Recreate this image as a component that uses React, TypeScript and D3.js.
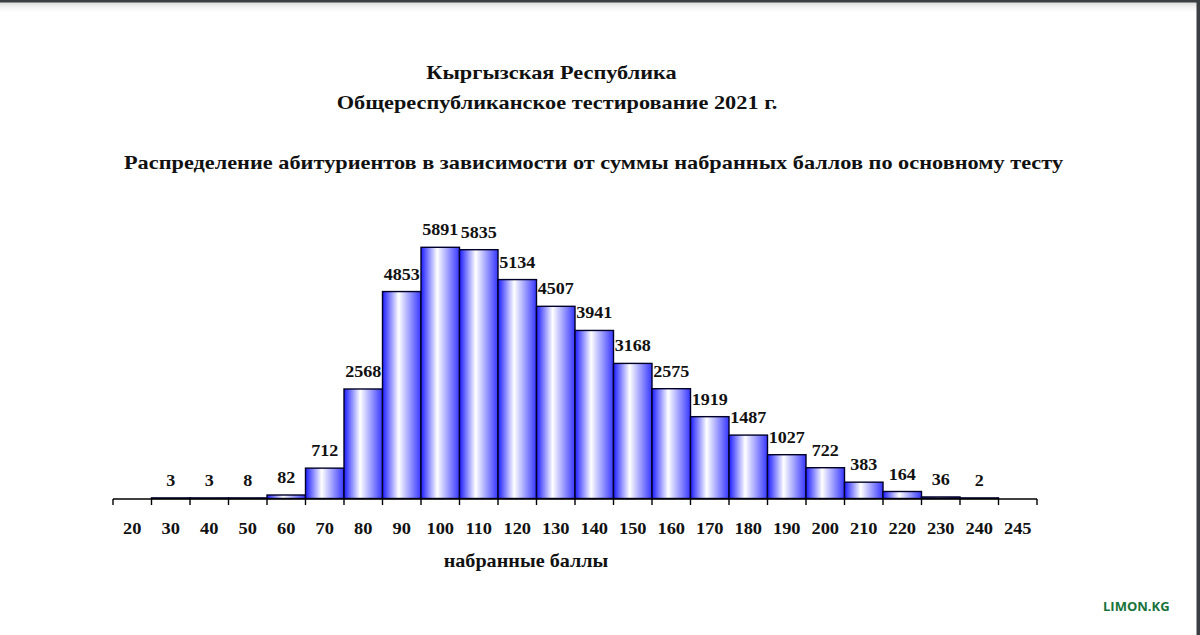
import React from "react";
import * as d3 from "d3";

const categories = ["20","30","40","50","60","70","80","90","100","110","120","130","140","150","160","170","180","190","200","210","220","230","240","245"];
const counts: (number | null)[] = [null,3,3,8,82,712,2568,4853,5891,5835,5134,4507,3941,3168,2575,1919,1487,1027,722,383,164,36,2,null];
const titleLines = ["Кыргызская Республика", "Общереспубликанское тестирование 2021 г."];
const subtitle = "Распределение абитуриентов в зависимости от суммы набранных баллов по основному тесту";
const xAxisTitle = "набранные баллы";

function SText({ x, y, sx, size, children }: { x: number; y: number; sx: number; size: number; children: React.ReactNode }) {
  return (
    <text transform={`translate(${x},${y}) scale(${sx},1)`} textAnchor="middle" fontWeight="bold" fontSize={size} fill="#111">
      {children}
    </text>
  );
}

export default function App() {
  const W = 1200, H = 635;
  const x = d3.scaleBand<string>().domain(categories).range([113, 1037]).paddingInner(0).paddingOuter(0);
  const y = d3.scaleLinear().domain([0, 5891]).range([498.5, 247.3]);
  const base = y(0);
  const font = "'Liberation Serif', 'Times New Roman', serif";
  const tickXs = categories.map((c) => x(c)!).concat([x.range()[1]]);

  return (
    <svg width={W} height={H} style={{ position: "absolute", left: 0, top: 0, background: "#fff" }} fontFamily={font}>
      <defs>
        <linearGradient id="barGrad" x1="0" x2="1" y1="0" y2="0">
          <stop offset="0" stopColor="#1c1cff" />
          <stop offset="0.42" stopColor="#ffffff" />
          <stop offset="1" stopColor="#3636ff" />
        </linearGradient>
        <linearGradient id="topShade" x1="0" x2="0" y1="0" y2="1">
          <stop offset="0" stopColor="#d8d8d8" />
          <stop offset="1" stopColor="#ffffff" stopOpacity="0" />
        </linearGradient>
      </defs>
      <rect x={0} y={0} width={W} height={H} fill="#fff" />
      <rect x={0} y={2} width={W} height={12} fill="url(#topShade)" />
      <rect x={0} y={0} width={W} height={2.5} fill="#3b3f43" />
      <rect x={1196.5} y={0} width={3.5} height={H} fill="#3b3f43" />

      <SText x={551.5} y={79} sx={1.24} size={18}>{titleLines[0]}</SText>
      <SText x={557} y={109} sx={1.24} size={18}>{titleLines[1]}</SText>
      <SText x={593.5} y={169} sx={1.24} size={18}>{subtitle}</SText>

      {categories.map((c, i) => {
        const v = counts[i];
        if (v == null) return null;
        const top = y(v);
        const h = Math.max(base - top, 0.6);
        return (
          <g key={c}>
            <rect x={x(c)!} y={base - h} width={x.bandwidth()} height={h} fill="url(#barGrad)" stroke="#000028" strokeWidth={1.4} />
            <SText x={x(c)! + x.bandwidth() / 2} y={top - 12} sx={1.13} size={16}>{v}</SText>
          </g>
        );
      })}

      <line x1={113} x2={1037} y1={499} y2={499} stroke="#000" strokeWidth={1.6} />
      {tickXs.map((tx, i) => (
        <line key={i} x1={tx} x2={tx} y1={499} y2={505} stroke="#000" strokeWidth={1.4} />
      ))}
      {categories.map((c) => (
        <SText key={c} x={x(c)! + x.bandwidth() / 2} y={534} sx={1.15} size={16}>{c}</SText>
      ))}
      <SText x={526} y={567} sx={1.12} size={18}>{xAxisTitle}</SText>

      <text x={1103} y={611} fontFamily="'Open Sans', 'DejaVu Sans', sans-serif" fontWeight="bold" fontSize={13} fill="#17733a">
        LIMON.KG
      </text>
    </svg>
  );
}
